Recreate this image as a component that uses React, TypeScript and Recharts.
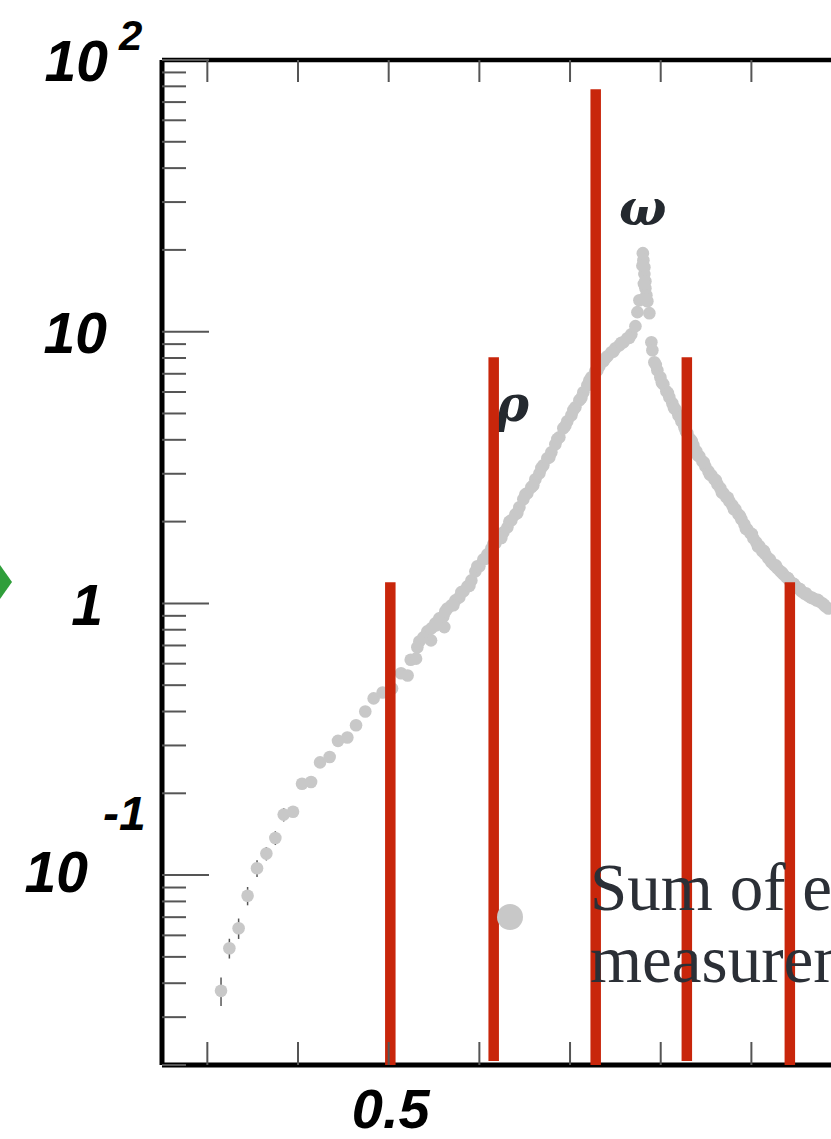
import React from 'react';
import {
  ComposedChart,
  Scatter,
  XAxis,
  YAxis,
  ReferenceLine,
  ReferenceDot,
  ErrorBar,
  Legend,
} from 'recharts';

// ---- data (energy in GeV, value on log axis) ----
const pointX = [
  0.3151, 0.3243, 0.3345, 0.3444, 0.3548, 0.3651, 0.375, 0.3842, 0.3945, 0.4044,
  0.4144, 0.4243, 0.4349, 0.4441, 0.4544, 0.464, 0.4742, 0.4834, 0.4933, 0.5037,
  0.5136, 0.5209, 0.5243, 0.5302, 0.5316, 0.5338, 0.5412, 0.5467, 0.5522, 0.5595,
  0.5614, 0.5382, 0.5426, 0.547, 0.5514, 0.5558, 0.5603, 0.5647, 0.5691, 0.5735,
  0.5779, 0.5824, 0.5868, 0.5912, 0.5956, 0.6, 0.6044, 0.6088, 0.6132, 0.6176,
  0.622, 0.6265, 0.6309, 0.6353, 0.6397, 0.6441, 0.6485, 0.6529, 0.6573, 0.6618,
  0.6662, 0.6706, 0.675, 0.6794, 0.6838, 0.6882, 0.6926, 0.697, 0.7015, 0.7059,
  0.7103, 0.7147, 0.7191, 0.7235, 0.7279, 0.7323, 0.7368, 0.7412, 0.7456, 0.75,
  0.7544, 0.7588, 0.7632, 0.7676, 0.7721, 0.7743, 0.7765, 0.7803, 0.7809, 0.782,
  0.782, 0.7831, 0.7831, 0.7842, 0.7853, 0.7875, 0.7897, 0.7908, 0.793, 0.7963,
  0.7996, 0.8029, 0.8062, 0.8095, 0.8128, 0.8161, 0.8195, 0.8228, 0.8261, 0.8294,
  0.8327, 0.836, 0.8393, 0.8426, 0.8459, 0.8492, 0.8526, 0.8559, 0.8592, 0.8625,
  0.8658, 0.8691, 0.8724, 0.8757, 0.879, 0.8823, 0.8857, 0.889, 0.8923, 0.8956,
  0.8989, 0.9022, 0.9055, 0.9088, 0.9121, 0.9154, 0.9187, 0.9221, 0.9254, 0.9287,
  0.932, 0.9353, 0.9386, 0.9419, 0.9452, 0.9485, 0.9518, 0.9551, 0.9585, 0.9618,
  0.9651, 0.9684, 0.9717, 0.975, 0.9783, 0.9816, 0.9849,
];
const pointY = [
  0.0375, 0.0538, 0.0637, 0.0839, 0.106, 0.12, 0.137, 0.167, 0.171, 0.217,
  0.22, 0.26, 0.272, 0.312, 0.321, 0.356, 0.4, 0.447, 0.47, 0.486,
  0.553, 0.543, 0.62, 0.626, 0.69, 0.724, 0.762, 0.731, 0.83, 0.89,
  0.818, 0.75, 0.789, 0.809, 0.844, 0.881, 0.896, 0.958, 0.983, 1.026,
  1.052, 1.107, 1.155, 1.215, 1.312, 1.369, 1.452, 1.515, 1.594, 1.663,
  1.735, 1.826, 1.905, 2.021, 2.127, 2.258, 2.416, 2.542, 2.675, 2.862,
  3.011, 3.223, 3.421, 3.6, 3.852, 4.087, 4.412, 4.681, 4.925, 5.272,
  5.593, 5.986, 6.353, 6.8, 7.155, 7.465, 7.788, 8.125, 8.406, 8.696,
  8.92, 9.15, 9.464, 9.79, 10.48, 11.8, 13.06, 19.46, 18.34, 17.28,
  16.29, 15.35, 14.46, 13.63, 12.95, 11.7, 9.15, 8.547, 7.722, 7.216,
  6.8, 6.407, 6.037, 5.738, 5.453, 5.183, 4.925, 4.681, 4.449, 4.228,
  4.018, 3.819, 3.63, 3.478, 3.334, 3.195, 3.064, 2.962, 2.862, 2.744,
  2.652, 2.542, 2.457, 2.375, 2.296, 2.22, 2.127, 2.039, 1.954, 1.873,
  1.811, 1.735, 1.677, 1.622, 1.554, 1.515, 1.464, 1.416, 1.38, 1.346,
  1.312, 1.279, 1.247, 1.215, 1.185, 1.155, 1.136, 1.107, 1.088, 1.07,
  1.052, 1.043, 1.026, 1.017, 1.0, 0.975, 0.958,
];
// second overlapping measurement set in the dense region
const extraX = [
  0.5625, 0.5713, 0.5801, 0.589, 0.5978, 0.6066, 0.6154, 0.6242, 0.6331, 0.6419,
  0.6507, 0.6595, 0.6684, 0.6772, 0.686, 0.6948, 0.7037, 0.7125, 0.7213, 0.7301,
  0.739, 0.7478, 0.7566, 0.7654, 0.7798, 0.7814, 0.7836,
  0.7946, 0.8012, 0.8079, 0.8145, 0.8211, 0.8277, 0.8343, 0.841, 0.8476, 0.8542,
  0.8608, 0.8674, 0.8741, 0.8807, 0.8873, 0.8939, 0.9005, 0.9072, 0.9138, 0.9204,
  0.927, 0.9336, 0.9403, 0.9469, 0.9535, 0.9601, 0.9667, 0.9733, 0.98,
];
const extraY = [
  0.935, 0.985, 1.1, 1.16, 1.37, 1.46, 1.65, 1.74, 2.0, 2.15,
  2.52, 2.72, 3.15, 3.45, 4.03, 4.5, 5.15, 5.7, 6.62, 7.2,
  7.98, 8.45, 9.1, 9.5, 17.5, 15.0, 13.2,
  7.55, 6.5, 5.95, 5.25, 4.85, 4.3, 3.95, 3.5, 3.3, 2.98,
  2.84, 2.56, 2.45, 2.22, 2.1, 1.88, 1.8, 1.62, 1.56, 1.45,
  1.38, 1.3, 1.24, 1.18, 1.13, 1.09, 1.05, 1.03, 0.99,
];
// absolute uncertainties of the first points (rest negligible)
const pointErr = [0.0045, 0.0045, 0.0055, 0.0065, 0.0075, 0.0068, 0.008, 0.0095, 0.006, 0.006];

// model bars
const barX = [0.5018, 0.6158, 0.7283, 0.8288, 0.9424];
const barTop = [1.195, 8.05, 78.0, 8.05, 1.197];
const barBase = [0.02, 0.0207, 0.02, 0.0207, 0.02];

// axes
const xTicks = [0.3, 0.4, 0.5, 0.6, 0.7, 0.8, 0.9];
const xLabelled = [0.5];
const yTicks = [
  0.02, 0.03, 0.04, 0.05, 0.06, 0.07, 0.08, 0.09,
  0.1, 0.2, 0.3, 0.4, 0.5, 0.6, 0.7, 0.8, 0.9,
  1, 2, 3, 4, 5, 6, 7, 8, 9,
  10, 20, 30, 40, 50, 60, 70, 80, 90, 100,
];
const yMajor = [0.1, 1, 10, 100];
const yMajorBase = ['10', '1', '10', '10'];
const yMajorExp = ['-1', '', '', '2'];

// resonance annotations
const annText = ['ρ', 'ω'];
const annX = [0.6364, 0.7803];
const annY = [4.68, 24.7];

const legendLines = ['Sum of exclusive', 'measurements'];

const data = [
  ...pointX.map((x, i) => {
    const e = pointErr[i] ?? 0;
    return { x, y: pointY[i], err: [e, e] };
  }),
  ...extraX.map((x, i) => ({ x, y: extraY[i], err: [0, 0] })),
];

const GRAY = '#c8c8c8';
const RED = '#c8260b';
const TICK = '#555';
const SANS = "'Liberation Sans', Arial, Helvetica, sans-serif";
const SERIF = "'Liberation Serif', 'Times New Roman', serif";

const labelProps = {
  fontFamily: SANS,
  fontWeight: 'bold',
  fontStyle: 'italic',
  fill: '#000',
} as const;

const YTick = (props: any) => {
  const { x, y, payload } = props;
  const v = payload.value;
  const idx = yMajor.indexOf(v);
  const major = idx >= 0;
  const base = major ? yMajorBase[idx] : '';
  const exp = major ? yMajorExp[idx] : '';
  return (
    <g>
      <line x1={x} x2={x + (major ? 47 : 24)} y1={y} y2={y} stroke={TICK} strokeWidth={2} />
      {major && v === 100 && (
        <g>
          <text x={108} y={y + 21} textAnchor="end" fontSize={57} {...labelProps}>{base}</text>
          <text x={119} y={y - 10} textAnchor="start" fontSize={42} {...labelProps}>{exp}</text>
        </g>
      )}
      {major && v === 10 && (
        <text x={107} y={y + 21} textAnchor="end" fontSize={57} {...labelProps}>{base}</text>
      )}
      {major && v === 1 && (
        <text x={103} y={y + 22} textAnchor="end" fontSize={57} {...labelProps}>{base}</text>
      )}
      {major && v === 0.1 && (
        <g>
          <text x={88} y={y + 17} textAnchor="end" fontSize={57} {...labelProps}>{base}</text>
          <text x={103} y={y - 45} textAnchor="start" fontSize={48} {...labelProps}>{exp}</text>
        </g>
      )}
    </g>
  );
};

const XBottomTick = (props: any) => {
  const { x, y, payload } = props;
  const v = payload.value;
  return (
    <g>
      <line x1={x} x2={x} y1={y} y2={y - 23} stroke={TICK} strokeWidth={2} />
      {xLabelled.includes(v) && (
        <text x={x + 2} y={y + 63} textAnchor="middle" fontSize={56} {...labelProps}>
          {String(v)}
        </text>
      )}
    </g>
  );
};

const XTopTick = (props: any) => {
  const { x, y } = props;
  return <line x1={x} x2={x} y1={y} y2={y + 22} stroke={TICK} strokeWidth={2} />;
};

const PointShape = (props: any) => {
  const { cx, cy } = props;
  if (cx == null || cy == null) return <g />;
  return <circle cx={cx} cy={cy} r={6.3} fill={GRAY} />;
};

const LegendBox = () => (
  <svg width={361} height={170} style={{ display: 'block' }}>
    <circle cx={40} cy={87} r={13} fill={GRAY} />
    <text x={120} y={80} fontFamily={SERIF} fontSize={67} fill="#2b2f36">
      {legendLines[0]}
    </text>
    <text x={120} y={152} fontFamily={SERIF} fontSize={67} fill="#2b2f36">
      {legendLines[1]}
    </text>
  </svg>
);

export default function App() {
  return (
    <div style={{ position: 'absolute', left: 0, top: 0, width: 831, height: 1139, overflow: 'hidden', background: '#fff' }}>
      <ComposedChart
        width={831}
        height={1139}
        data={data}
        margin={{ top: 0, right: 0, bottom: 0, left: 0 }}
      >
        <XAxis
          xAxisId="top"
          orientation="top"
          type="number"
          dataKey="x"
          domain={[0.25, 0.9878]}
          allowDataOverflow
          ticks={xTicks}
          interval={0}
          height={60}
          tickLine={false}
          tickSize={0}
          tickMargin={0}
          axisLine={{ stroke: '#000', strokeWidth: 4.5 }}
          tick={<XTopTick />}
        />
        <XAxis
          xAxisId="x"
          orientation="bottom"
          type="number"
          dataKey="x"
          domain={[0.25, 0.9878]}
          allowDataOverflow
          ticks={xTicks}
          interval={0}
          height={74}
          tickLine={false}
          tickSize={0}
          tickMargin={0}
          axisLine={{ stroke: '#000', strokeWidth: 5 }}
          tick={<XBottomTick />}
        />
        <YAxis
          type="number"
          scale="log"
          domain={[0.02, 100]}
          allowDataOverflow
          ticks={yTicks}
          interval={0}
          width={162}
          tickLine={false}
          tickSize={0}
          tickMargin={0}
          axisLine={{ stroke: '#000', strokeWidth: 5 }}
          tick={<YTick />}
        />
        <Scatter
          xAxisId="x"
          dataKey="y"
          fill={GRAY}
          shape={<PointShape />}
          isAnimationActive={false}
        >
          <ErrorBar dataKey="err" direction="y" width={0} stroke="#555" strokeWidth={1.5} />
        </Scatter>
        {barX.map((bx, i) => (
          <ReferenceLine
            key={'bar' + i}
            xAxisId="x"
            segment={[
              { x: bx, y: barBase[i] },
              { x: bx, y: barTop[i] },
            ]}
            stroke={RED}
            strokeWidth={10.5}
            ifOverflow="visible"
            zIndex={800}
          />
        ))}
        {annText.map((t, i) => (
          <ReferenceDot
            key={'ann' + i}
            xAxisId="x"
            x={annX[i]}
            y={annY[i]}
            r={0}
            ifOverflow="visible"
            shape={(p: any) => (
              <text
                x={p.cx}
                y={p.cy}
                textAnchor="middle"
                fontFamily="'DejaVu Serif', serif"
                fontWeight="bold"
                fontStyle="italic"
                fontSize={50}
                fill="#24292f"
              >
                {t}
              </text>
            )}
          />
        ))}
        <Legend
          layout="horizontal"
          verticalAlign="middle"
          align="center"
          wrapperStyle={{ left: 470, top: 830, width: 361, height: 170 }}
          content={() => <LegendBox />}
        />
      </ComposedChart>
      <svg width={20} height={60} style={{ position: 'absolute', left: 0, top: 555 }}>
        <polygon points="0,10 12,27 0,44" fill="#2f9e3a" />
      </svg>
    </div>
  );
}
